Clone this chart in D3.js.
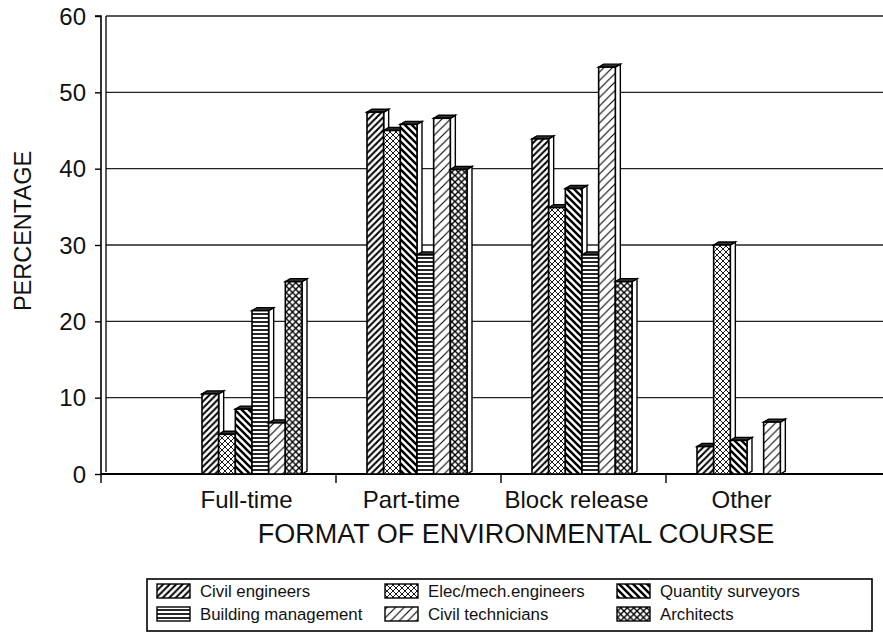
<!DOCTYPE html>
<html>
<head>
<meta charset="utf-8">
<script src="https://cdn.jsdelivr.net/npm/d3@7"></script>
<style>
  html, body { margin: 0; padding: 0; background: #fff; }
  svg { display: block; font-family: "Liberation Sans", Arial, Helvetica, sans-serif; }
</style>
</head>
<body>
<svg id="chart" width="883" height="638"></svg>
<script>
// Course formats (x categories)
const categories = ["Full-time", "Part-time", "Block release", "Other"];

// Professional groups (series)
const series = ["Civil engineers", "Elec/mech.engineers", "Quantity surveyors",
                "Building management", "Civil technicians", "Architects"];

// Percentage per group, in category order
const civilEngineers     = [10.5, 47.4, 43.9, 3.6];
const elecMechEngineers  = [5.2, 45.0, 34.9, 30.0];
const quantitySurveyors  = [8.5, 45.8, 37.4, 4.4];
const buildingManagement = [21.4, 28.7, 28.7, 0];
const civilTechnicians   = [6.7, 46.6, 53.3, 6.8];
const architects         = [25.2, 39.9, 25.2, 0];

const values = [civilEngineers, elecMechEngineers, quantitySurveyors,
                buildingManagement, civilTechnicians, architects];

const yTicks = [0, 10, 20, 30, 40, 50, 60];

const svg = d3.select("#chart");
const W = 883;

const y = d3.scaleLinear().domain([0, 60]).range([474, 16]);
const x = d3.scaleBand().domain(categories).range([171, 831]).paddingInner(0);
const xi = d3.scaleBand().domain(series).range([31, 131]).paddingInner(0);

const DX = 5, DY = 3;   // depth of the 3-D bars

// ---- hatch patterns ----
const defs = svg.append("defs");
function hatch(id, size, sw, kinds) {
  const p = defs.append("pattern").attr("id", id)
    .attr("patternUnits", "userSpaceOnUse")
    .attr("width", size).attr("height", size);
  p.append("rect").attr("width", size).attr("height", size).attr("fill", "#fff");
  const s = size;
  const segs = [];
  if (kinds.includes("fwd")) {
    segs.push([0, s, s, 0], [-1, 1, 1, -1], [s - 1, s + 1, s + 1, s - 1]);
  }
  if (kinds.includes("back")) {
    segs.push([0, 0, s, s], [-1, s - 1, 1, s + 1], [s - 1, -1, s + 1, 1]);
  }
  if (kinds.includes("horiz")) {
    segs.push([0, s / 2, s, s / 2]);
  }
  segs.forEach(d => p.append("line")
    .attr("x1", d[0]).attr("y1", d[1]).attr("x2", d[2]).attr("y2", d[3])
    .attr("stroke", "#000").attr("stroke-width", sw));
}
hatch("p0", 6.5, 2.0, ["fwd"]);
hatch("p1", 6, 0.9, ["fwd", "back"]);
hatch("p2", 7, 2.4, ["back"]);
hatch("p3", 4, 1.7, ["horiz"]);
hatch("p4", 8.5, 1.1, ["fwd"]);
hatch("p5", 6.5, 1.4, ["fwd", "back"]);

// ---- grid and walls ----
svg.append("g").selectAll("line").data(yTicks.filter(d => d > 0)).join("line")
  .attr("x1", 106).attr("x2", W)
  .attr("y1", d => y(d)).attr("y2", d => y(d))
  .attr("stroke", "#222").attr("stroke-width", 1.3);

// back wall edge
svg.append("line").attr("x1", 106).attr("x2", 106)
  .attr("y1", y(60)).attr("y2", y(0) - 2)
  .attr("stroke", "#000").attr("stroke-width", 1.3);

// y axis
const yAxis = svg.append("g").attr("transform", "translate(101,0)")
  .call(d3.axisLeft(y).tickValues(yTicks).tickSize(6).tickFormat(d3.format("d")));
yAxis.select(".domain").attr("stroke-width", 1.6).attr("d", `M-6,${y(60)}H0V${y(0)}`);
yAxis.selectAll(".tick line").attr("stroke-width", 1.4);
yAxis.selectAll(".tick text").attr("font-size", 24).attr("fill", "#111")
  .attr("font-family", "Liberation Sans, Arial, sans-serif").attr("x", -15).attr("dy", "0.34em");

// floor / x axis
svg.append("line").attr("x1", 101).attr("x2", W).attr("y1", y(0)).attr("y2", y(0))
  .attr("stroke", "#000").attr("stroke-width", 2.2);
const xTickPos = [101].concat(categories.slice(1).map(c => x(c)));
svg.append("g").selectAll("line").data(xTickPos).join("line")
  .attr("x1", d => d).attr("x2", d => d)
  .attr("y1", y(0)).attr("y2", y(0) + 9)
  .attr("stroke", "#000").attr("stroke-width", 1.4);

svg.append("g").selectAll("text").data(categories).join("text")
  .attr("x", d => x(d) + x.bandwidth() / 2 - 7)
  .attr("y", 508)
  .attr("text-anchor", "middle")
  .attr("font-size", 24).attr("fill", "#111")
  .text(d => d);

svg.append("text").attr("x", 516).attr("y", 543)
  .attr("text-anchor", "middle").attr("font-size", 27).attr("fill", "#111")
  .text("FORMAT OF ENVIRONMENTAL COURSE");

svg.append("text")
  .attr("transform", "translate(31,231) rotate(-90)")
  .attr("text-anchor", "middle").attr("font-size", 23.5).attr("fill", "#111")
  .text("PERCENTAGE");

// ---- 3-D bars ----
const bars = [];
categories.forEach((c, ci) => {
  series.forEach((s, si) => {
    const v = values[si][ci];
    if (v > 0) bars.push({ c, s, si, v });
  });
});

const bg = svg.append("g");
bars.forEach(b => {
  const x0 = x(b.c) + xi(b.s);
  const w = xi.bandwidth();
  const yt = y(b.v), yb = y(0);
  const g = bg.append("g");
  // side face
  g.append("path")
    .attr("d", `M${x0 + w},${yt}L${x0 + w + DX},${yt - DY}L${x0 + w + DX},${yb - DY}L${x0 + w},${yb}Z`)
    .attr("fill", "#fff").attr("stroke", "#000").attr("stroke-width", 1.4);
  // top face
  g.append("path")
    .attr("d", `M${x0},${yt}L${x0 + DX},${yt - DY}L${x0 + w + DX},${yt - DY}L${x0 + w},${yt}Z`)
    .attr("fill", "#333").attr("stroke", "#000").attr("stroke-width", 1.4);
  // front face
  g.append("rect")
    .attr("x", x0).attr("y", yt).attr("width", w).attr("height", yb - yt)
    .attr("fill", `url(#p${b.si})`).attr("stroke", "#000").attr("stroke-width", 1.6);
});

// ---- legend ----
const lg = svg.append("g");
lg.append("rect").attr("x", 147).attr("y", 579).attr("width", 725).attr("height", 52)
  .attr("fill", "#fff").attr("stroke", "#000").attr("stroke-width", 1.6);
const colX = [157, 385, 617];
const rowY = [591, 614];
series.forEach((s, i) => {
  const col = i % 3, row = Math.floor(i / 3);
  const sx = colX[col], sy = rowY[row];
  lg.append("rect").attr("x", sx).attr("y", sy - 7).attr("width", 33).attr("height", 14)
    .attr("fill", `url(#p${i})`).attr("stroke", "#000").attr("stroke-width", 1.4);
  lg.append("text").attr("x", sx + 43).attr("y", sy).attr("dy", "0.35em")
    .attr("font-size", 16.8).attr("fill", "#111").text(s);
});
</script>
</body>
</html>
